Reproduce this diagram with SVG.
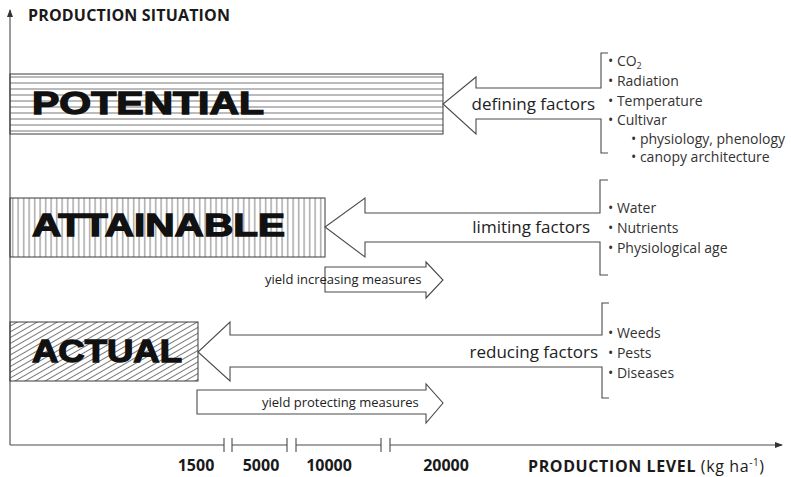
<svg xmlns="http://www.w3.org/2000/svg" width="791" height="477" viewBox="0 0 791 477">
<style>
.ln{fill:none;stroke:#4a4a4a;stroke-width:1.1}
.box{stroke:#3a3a3a;stroke-width:1}
.big{font-family:"Liberation Sans",Arial,sans-serif;font-weight:bold;font-size:31px;fill:#111;stroke:#111;stroke-width:1.3}
.fac{font-family:"Open Sans","Noto Sans",sans-serif;font-size:17px;fill:#222}
.lst{font-family:"Open Sans","Noto Sans",sans-serif;font-size:14px;fill:#333}
.mea{font-family:"Open Sans","Noto Sans",sans-serif;font-size:13px;fill:#222}
.ax{font-family:"Open Sans","Noto Sans",sans-serif;font-weight:bold;font-size:16px;fill:#1a1a1a}
</style>
<defs>
<pattern id="hH" patternUnits="userSpaceOnUse" x="0" y="74" width="10" height="6"><line x1="0" y1="3" x2="10" y2="3" stroke="#555" stroke-width="0.8"/></pattern>
<pattern id="hV" patternUnits="userSpaceOnUse" x="10" y="0" width="5.5" height="10"><line x1="2.7" y1="0" x2="2.7" y2="10" stroke="#555" stroke-width="0.8"/></pattern>
<pattern id="hD" patternUnits="userSpaceOnUse" width="10" height="5" patternTransform="rotate(-30)"><line x1="0" y1="2.5" x2="10" y2="2.5" stroke="#555" stroke-width="0.8"/></pattern>
<marker id="ah" markerWidth="8" markerHeight="8" refX="7" refY="4" orient="auto" markerUnits="userSpaceOnUse"><path d="M0,1 L8,4 L0,7 Z" fill="#333"/></marker>
</defs>
<g id="axes">
<line class="ln" x1="10" y1="445" x2="10" y2="10" marker-end="url(#ah)"/>
<path class="ln" d="M10,445 H224 M232,445 H287 M296,445 H381 M390,445 H782" marker-end="url(#ah)"/>
<path class="ln" d="M224,438 V452 M232,438 V452 M287,438 V452 M296,438 V452 M381,438 V452 M390,438 V452"/>
<text class="ax" x="28" y="21" textLength="202">PRODUCTION SITUATION</text>
<text class="ax" x="196" y="471" text-anchor="middle">1500</text>
<text class="ax" x="261" y="471" text-anchor="middle">5000</text>
<text class="ax" x="329" y="471" text-anchor="middle">10000</text>
<text class="ax" x="446" y="471" text-anchor="middle">20000</text>
<text class="ax" x="528" y="472" textLength="236">PRODUCTION LEVEL <tspan font-weight="normal">(kg ha</tspan><tspan font-weight="normal" font-size="10" dy="-6">-1</tspan><tspan font-weight="normal" dy="6">)</tspan></text>
</g>
<g id="potential">
<rect class="box" x="10" y="74" width="433" height="60" fill="url(#hH)"/>
<text class="big" x="32" y="114" textLength="232" lengthAdjust="spacingAndGlyphs">POTENTIAL</text>
</g>
<g id="attainable">
<rect class="box" x="10" y="198" width="315" height="59" fill="url(#hV)"/>
<text class="big" x="32" y="236" textLength="253" lengthAdjust="spacingAndGlyphs">ATTAINABLE</text>
</g>
<g id="actual">
<rect class="box" x="10" y="322" width="188" height="59" fill="url(#hD)"/>
<text class="big" x="32" y="362" textLength="150" lengthAdjust="spacingAndGlyphs">ACTUAL</text>
</g>
<g id="connectors">
<path class="ln" d="M608,53 H601 V88 H476 V77 L443,104 L476,134 V119 H601 V153 H608"/>
<path class="ln" d="M608,180 H600 V213 H365 V198 L325,227 L365,257 V242 H600 V275 H608"/>
<path class="ln" d="M609,303 H602 V335 H230 V322 L198,352 L230,381 V367 H602 V398 H609"/>
<path class="ln" d="M325,267 H426 V262 L443,280 L426,298 V292 H325 Z" fill="#fff"/>
<path class="ln" d="M197,390 H426 V384 L443,403 L426,423 V414 H197 Z" fill="#fff"/>
</g>
<g id="defining-factors">
<text class="fac" x="595" y="110" text-anchor="end">defining factors</text>
<text class="lst" x="608" y="66">• CO<tspan font-size="9" dy="3">2</tspan></text>
<text class="lst" x="608" y="86">• Radiation</text>
<text class="lst" x="608" y="106">• Temperature</text>
<text class="lst" x="608" y="125">• Cultivar</text>
<text class="lst" x="631" y="144" font-size="13.5">• physiology, phenology</text>
<text class="lst" x="631" y="162" font-size="13.5">• canopy architecture</text>
</g>
<g id="limiting-factors">
<text class="fac" x="590" y="233" text-anchor="end">limiting factors</text>
<text class="lst" x="608" y="213">• Water</text>
<text class="lst" x="608" y="233">• Nutrients</text>
<text class="lst" x="608" y="253">• Physiological age</text>
</g>
<g id="reducing-factors">
<text class="fac" x="598" y="358" text-anchor="end">reducing factors</text>
<text class="lst" x="608" y="338">• Weeds</text>
<text class="lst" x="608" y="358">• Pests</text>
<text class="lst" x="608" y="378">• Diseases</text>
</g>
<g id="yield-increasing">
<text class="mea" x="265" y="284">yield increasing measures</text>
</g>
<g id="yield-protecting">
<text class="mea" x="262" y="407">yield protecting measures</text>
</g>
</svg>
